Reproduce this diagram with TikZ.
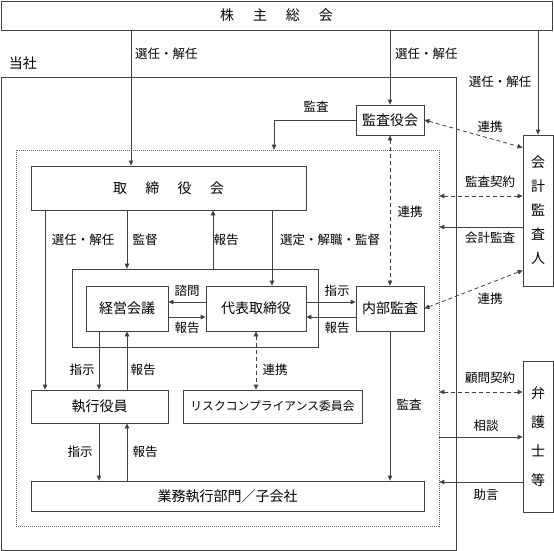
\documentclass[tikz,border=0pt]{standalone}
\usepackage{fontspec}
\setmainfont{Noto Sans CJK JP}
\usetikzlibrary{arrows.meta,calc}
\begin{document}
\begin{tikzpicture}[x=1pt,y=-1pt,
  ln/.style={draw=black!75, line width=0.8pt},
  tip/.tip={Triangle[length=5pt,width=4.5pt]},
  arr/.style={ln, -tip},
  darr/.style={ln, dash pattern=on 4pt off 3pt, tip-tip},
  box/.style={draw=black!75, line width=0.8pt, inner sep=0pt, font=\fontsize{14}{16}\selectfont},
  lbl/.style={inner sep=0pt, font=\fontsize{12.5}{14}\selectfont},
]
\useasboundingbox (0,0) rectangle (554,551);

% frames
\node[box, minimum width=455pt, minimum height=473pt] (tosha) at (228.5,313.5) {};
\node[draw=black!60, line width=0.7pt, dash pattern=on 1pt off 1pt, inner sep=0pt,
      minimum width=423pt, minimum height=376pt] (dotted) at (227.5,338) {};
\node[lbl, font=\fontsize{14}{16}\selectfont] (toshalbl) at (23,63) {当社};

% boxes
\node[box, minimum width=551pt, minimum height=29pt] (kabu) at (276.5,15.5)
  {株\hspace{1.35em}主\hspace{1.35em}総\hspace{1.35em}会};
\node[box, minimum width=68pt, minimum height=30pt] (kansa) at (390,120) {監査役会};
\node[box, minimum width=30pt, minimum height=151pt, align=center,
      font=\fontsize{14}{24}\selectfont] (kaikei) at (538,210.5) {会\\計\\監\\査\\人};
\node[box, minimum width=275pt, minimum height=44pt] (tori) at (168.5,188)
  {取\hspace{1.3em}締\hspace{1.3em}役\hspace{1.3em}会};
\node[box, minimum width=246pt, minimum height=78pt] (group) at (195,308) {};
\node[box, minimum width=82pt, minimum height=45pt] (keiei) at (127,308.5) {経営会議};
\node[box, minimum width=100pt, minimum height=45pt] (daihyo) at (256,308.5) {代表取締役};
\node[box, minimum width=68pt, minimum height=45pt] (naibu) at (390,308.5) {内部監査};
\node[box, minimum width=137pt, minimum height=33pt] (shikko) at (99.5,406.5) {執行役員};
\node[box, minimum width=179pt, minimum height=33pt, font=\fontsize{11.8}{14}\selectfont] (risk) at (272.5,406.5) {リスクコンプライアンス委員会};
\node[box, minimum width=393pt, minimum height=30pt] (gyomu) at (227.5,496) {業務執行部門／子会社};
\node[box, minimum width=30pt, minimum height=151pt, align=center,
      font=\fontsize{14}{29}\selectfont] (bengo) at (538,436.5) {弁\\護\\士\\等};

% helper coordinates
\coordinate (x45) at (45,0);
\coordinate (x99) at (99,0);
\coordinate (x127) at (127,0);
\coordinate (x131) at (131,0);
\coordinate (x213) at (213,0);
\coordinate (x272) at (272,0);
\coordinate (x274) at (274,0);
\coordinate (y196) at (0,196);
\coordinate (y227) at (0,227);
\coordinate (y302) at (0,302);
\coordinate (y317) at (0,317);
\coordinate (y392) at (0,392);
\coordinate (y437) at (0,437);
\coordinate (y482) at (0,482);

% connectors from shareholders meeting
\draw[arr] (kabu.south -| x131) -- (tori.north -| x131);
\draw[arr] (kabu.south -| kansa.north) -- (kansa.north);
\draw[arr] (kabu.south -| kaikei.north) -- (kaikei.north);

% audit board
\draw[arr] (kansa.west) -| (dotted.north -| x274);
\draw[darr] (kansa.east) -- ($(kaikei.north west)+(0,13)$);
\draw[darr] (kansa.south) -- (naibu.north);

% accounting auditor
\draw[darr] (dotted.east |- y196) -- (kaikei.west |- y196);
\draw[arr] (kaikei.west |- y227) -- (dotted.east |- y227);
\draw[darr] (naibu.east) -- ($(kaikei.south west)+(0,-16)$);

% board of directors
\draw[arr] (tori.south -| x45) -- (shikko.north -| x45);
\draw[arr] (tori.south -| x127) -- (group.north -| x127);
\draw[arr] (group.north -| x213) -- (tori.south -| x213);
\draw[arr] (tori.south -| x272) -- (daihyo.north -| x272);

% management group
\draw[arr] (daihyo.west |- y302) -- (keiei.east |- y302);
\draw[arr] (keiei.east |- y317) -- (daihyo.west |- y317);
\draw[arr] (daihyo.east |- y302) -- (naibu.west |- y302);
\draw[arr] (naibu.west |- y317) -- (daihyo.east |- y317);
\draw[arr] (keiei.south -| x99) -- (shikko.north -| x99);
\draw[arr] (shikko.north -| x127) -- (keiei.south -| x127);
\draw[darr] (daihyo.south) -- (risk.north -| daihyo.south);

% execution
\draw[arr] (shikko.south -| x99) -- (gyomu.north -| x99);
\draw[arr] (gyomu.north -| x127) -- (shikko.south -| x127);
\draw[arr] (naibu.south) -- (gyomu.north -| naibu.south);

% lawyers
\draw[darr] (dotted.east |- y392) -- (bengo.west |- y392);
\draw[arr] (dotted.east |- y437) -- (bengo.west |- y437);
\draw[arr] (bengo.west |- y482) -- (dotted.east |- y482);

% labels
\node[lbl, anchor=west] (l1) at (135,54) {選任・解任};
\node[lbl, anchor=west] (l2) at (395,54) {選任・解任};
\node[lbl] (l3) at (500,82) {選任・解任};
\node[lbl] (l4) at (316,107) {監査};
\node[lbl] (l5) at (490,127) {連携};
\node[lbl] (l6) at (490,182) {監査契約};
\node[lbl] (l7) at (410,212) {連携};
\node[lbl] (l8) at (490,238) {会計監査};
\node[lbl] (l9) at (83,240) {選任・解任};
\node[lbl] (l10) at (145,240) {監督};
\node[lbl] (l11) at (226,240) {報告};
\node[lbl] (l12) at (330,240) {選定・解職・監督};
\node[lbl] (l13) at (187,291) {諮問};
\node[lbl] (l14) at (187,328) {報告};
\node[lbl] (l15) at (337,291) {指示};
\node[lbl] (l16) at (337,328) {報告};
\node[lbl] (l17) at (490,299) {連携};
\node[lbl] (l18) at (82,370) {指示};
\node[lbl] (l19) at (143,370) {報告};
\node[lbl] (l20) at (275,370) {連携};
\node[lbl] (l21) at (490,378) {顧問契約};
\node[lbl] (l22) at (409,405) {監査};
\node[lbl] (l23) at (486,426) {相談};
\node[lbl] (l24) at (80,452) {指示};
\node[lbl] (l25) at (145,452) {報告};
\node[lbl] (l26) at (486,495) {助言};
\end{tikzpicture}
\end{document}
